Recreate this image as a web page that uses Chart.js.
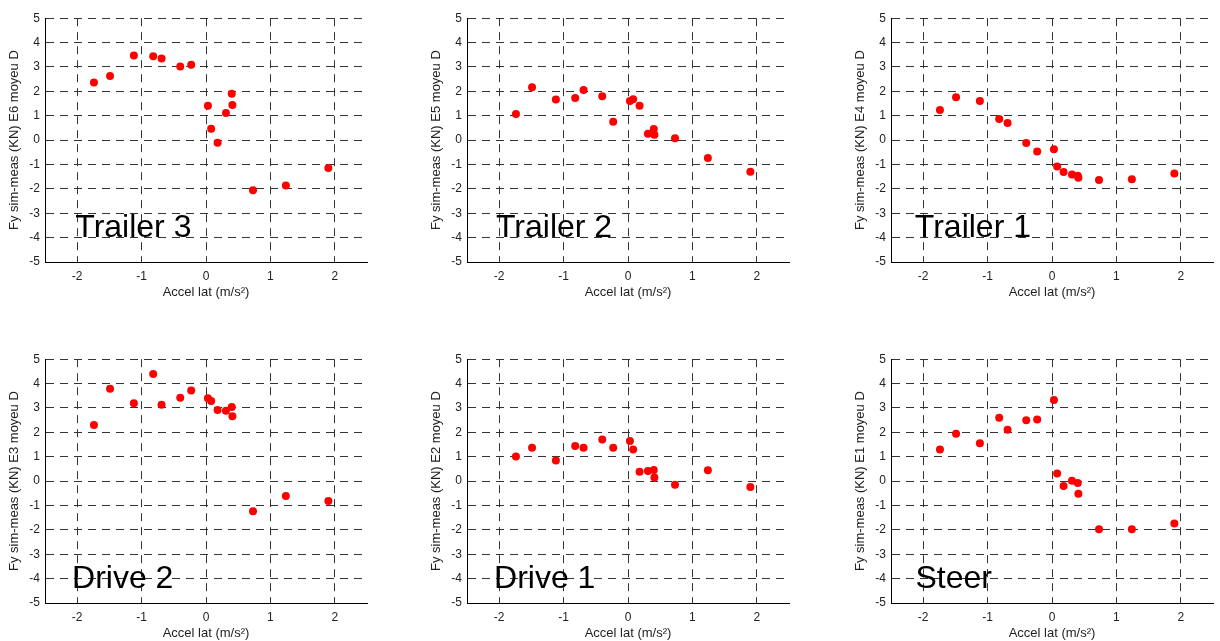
<!DOCTYPE html>
<html><head><meta charset="utf-8">
<script src="https://cdn.jsdelivr.net/npm/chart.js@4.4.0/dist/chart.umd.min.js"></script>
<style>
html,body{margin:0;padding:0;background:#fff;overflow:hidden;width:1220px;height:641px;position:relative;}
canvas{position:absolute;}
</style></head><body>
<script>
// ---------- DATA ----------
const accelLat = [-1.74, -1.49, -1.12, -0.82, -0.69, -0.40, -0.23, 0.03, 0.08, 0.18, 0.31, 0.40, 0.41, 0.73, 1.24, 1.90];
const fyTrailer3 = [2.36, 2.63, 3.47, 3.44, 3.35, 3.02, 3.09, 1.41, 0.47, -0.11, 1.11, 1.90, 1.44, -2.06, -1.86, -1.14];
const fyTrailer2 = [1.07, 2.17, 1.67, 1.73, 2.06, 1.80, 0.75, 1.60, 1.68, 1.41, 0.26, 0.46, 0.22, 0.08, -0.73, -1.30];
const fyTrailer1 = [1.23, 1.76, 1.60, 0.87, 0.70, -0.12, -0.47, -0.38, -1.08, -1.31, -1.41, -1.46, -1.54, -1.64, -1.61, -1.37];
const fyDrive2   = [2.30, 3.79, 3.19, 4.39, 3.13, 3.42, 3.72, 3.40, 3.29, 2.92, 2.89, 3.04, 2.66, -1.24, -0.61, -0.82];
const fyDrive1   = [1.01, 1.37, 0.84, 1.44, 1.37, 1.71, 1.37, 1.64, 1.30, 0.38, 0.41, 0.46, 0.15, -0.15, 0.45, -0.24];
const fySteer    = [1.30, 1.94, 1.55, 2.60, 2.11, 2.50, 2.53, 3.33, 0.31, -0.20, 0.01, -0.08, -0.52, -1.97, -1.97, -1.74];

const panelNames  = ['Trailer 3', 'Trailer 2', 'Trailer 1', 'Drive 2', 'Drive 1', 'Steer'];
const yAxisTitles = ['Fy sim-meas (KN) E6 moyeu D', 'Fy sim-meas (KN) E5 moyeu D', 'Fy sim-meas (KN) E4 moyeu D',
                     'Fy sim-meas (KN) E3 moyeu D', 'Fy sim-meas (KN) E2 moyeu D', 'Fy sim-meas (KN) E1 moyeu D'];
const xAxisTitle  = 'Accel lat (m/s²)';
const xTickValues = [-2, -1, 0, 1, 2];
const yTickValues = [-5, -4, -3, -2, -1, 0, 1, 2, 3, 4, 5];
const seriesList  = [fyTrailer3, fyTrailer2, fyTrailer1, fyDrive2, fyDrive1, fySteer];

// ---------- LAYOUT / STYLE ----------
const FONT = '"Liberation Sans", Arial, Helvetica, sans-serif';
const L = {
  plotLeft: [45, 467, 891],
  plotTop: [16, 357],
  plotW: 322, plotH: 246,
  yAxisW: 45, xAxisH: 45, padTop: 10, padRight: 10
};
const labelPos = [
  {x: -2.03, y: -3.98}, {x: -2.05, y: -3.98}, {x: -2.13, y: -3.98},
  {x: -2.08, y: -4.37}, {x: -2.08, y: -4.37}, {x: -2.12, y: -4.37}
];

const panelLabelPlugin = {
  id: 'panelLabel',
  afterDraw(chart, args, opts) {
    const {ctx, scales: {x, y}} = chart;
    ctx.save();
    ctx.font = opts.size + 'px ' + FONT;
    ctx.fillStyle = '#000';
    ctx.textAlign = 'left';
    ctx.textBaseline = 'alphabetic';
    ctx.fillText(opts.text, x.getPixelForValue(opts.x), y.getPixelForValue(opts.y));
    ctx.restore();
  }
};

function makePanel(i) {
  const col = i % 3, row = Math.floor(i / 3);
  const w = L.yAxisW + L.plotW + L.padRight;
  const h = L.padTop + L.plotH + L.xAxisH;
  const canvas = document.createElement('canvas');
  canvas.width = w; canvas.height = h;
  canvas.style.left = (L.plotLeft[col] - L.yAxisW) + 'px';
  canvas.style.top = (L.plotTop[row] - L.padTop) + 'px';
  canvas.style.width = w + 'px'; canvas.style.height = h + 'px';
  document.body.appendChild(canvas);

  const gridColor = '#333';
  const tickFont = {family: FONT, size: 12};
  const titleFont = {family: FONT, size: 13};

  new Chart(canvas, {
    type: 'scatter',
    data: {
      datasets: [{
        data: accelLat.map((xv, k) => ({x: xv, y: seriesList[i][k]})),
        backgroundColor: '#ff0000', borderColor: '#ff0000',
        pointRadius: 4, pointHoverRadius: 4, borderWidth: 0
      }]
    },
    options: {
      responsive: false, animation: false, events: [],
      layout: {padding: {left: 0, top: L.padTop, right: L.padRight, bottom: 0}},
      plugins: {
        legend: {display: false}, tooltip: {enabled: false},
        panelLabel: {text: panelNames[i], x: labelPos[i].x, y: labelPos[i].y, size: 32}
      },
      scales: {
        x: {
          type: 'linear', min: -2.5, max: 2.5,
          afterBuildTicks: s => { s.ticks = xTickValues.map(v => ({value: v})); },
          afterFit: s => { s.height = L.xAxisH; },
          grid: {color: gridColor, lineWidth: 1, drawTicks: false},
          border: {display: true, color: '#000', width: 1, dash: [8, 6]},
          ticks: {padding: 7, color: '#222', font: tickFont, callback: v => String(v), maxRotation: 0, autoSkip: false},
          title: {display: true, text: xAxisTitle, color: '#222', font: titleFont, padding: {top: 0, bottom: 7}}
        },
        y: {
          type: 'linear', min: -5, max: 5,
          afterBuildTicks: s => { s.ticks = yTickValues.map(v => ({value: v})); },
          afterFit: s => { s.width = L.yAxisW; },
          grid: {color: gridColor, lineWidth: 1, drawTicks: false},
          border: {display: true, color: '#000', width: 1, dash: [8, 6]},
          ticks: {padding: 5, color: '#222', font: tickFont, callback: v => String(v), autoSkip: false},
          title: {display: true, text: yAxisTitles[i], color: '#222', font: titleFont, padding: {top: 7, bottom: 0}}
        }
      }
    },
    plugins: [panelLabelPlugin]
  });
}

for (let i = 0; i < 6; i++) makePanel(i);
</script>
</body></html>
